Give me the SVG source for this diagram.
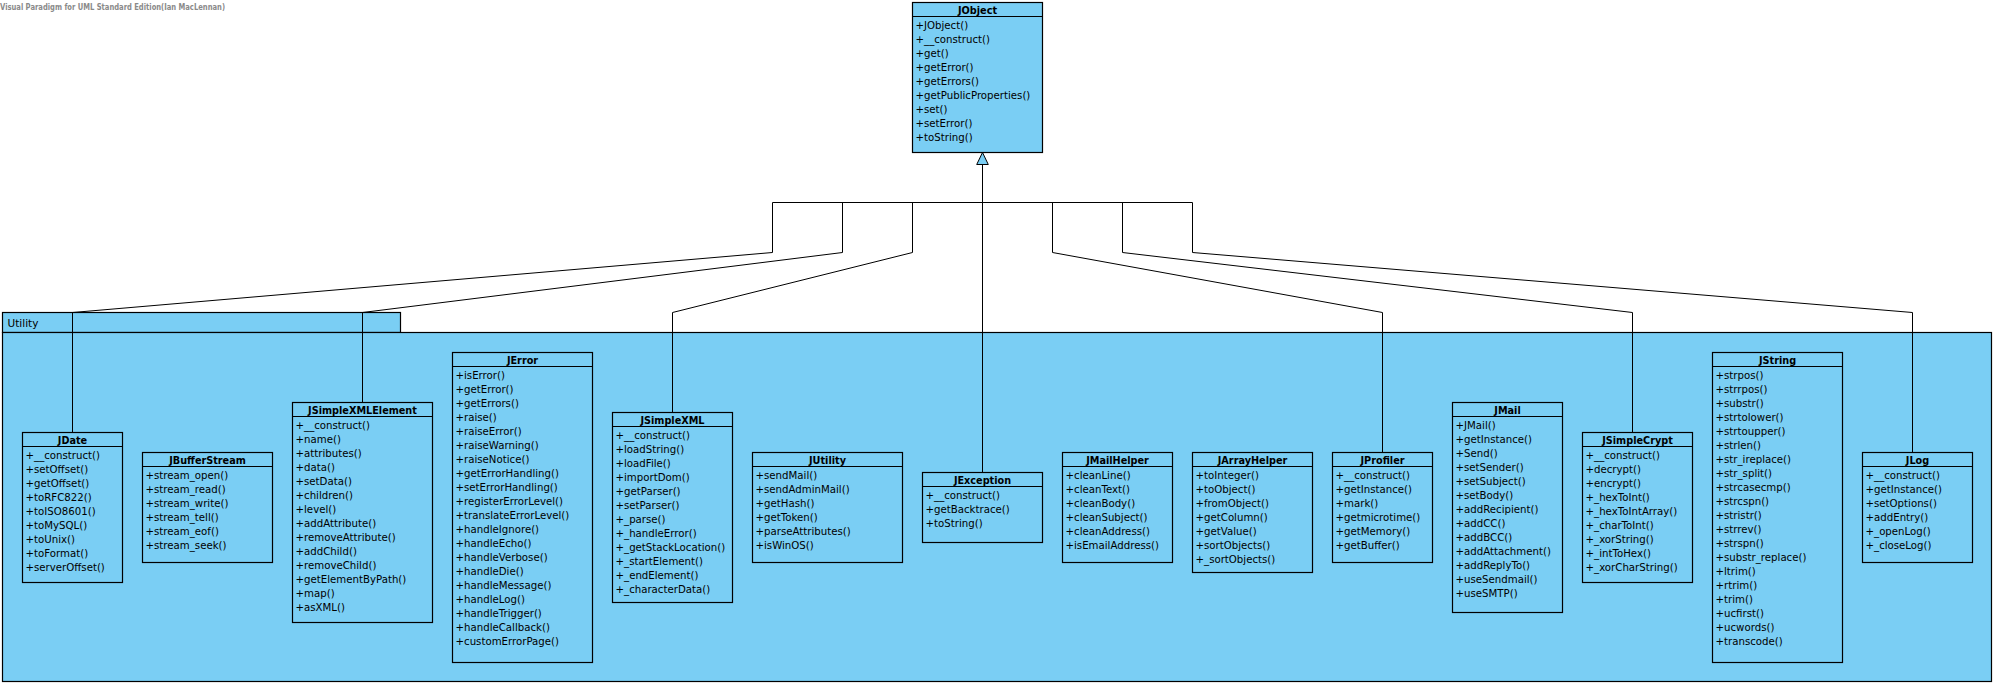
<svg xmlns="http://www.w3.org/2000/svg" width="1996" height="686" viewBox="0 0 1996 686">
<style>
.box{fill:#7ACEF4;stroke:#000;stroke-width:1.2}
.hdr{stroke:#000;stroke-width:1.2}
.t{font-family:"DejaVu Sans",sans-serif;font-size:9.7px;font-weight:bold;text-anchor:middle;fill:#000}
.m{font-family:"DejaVu Sans",sans-serif;font-size:10.2px;fill:#000}
.con{fill:none;stroke:#000;stroke-width:1}
.pkg{fill:#7ACEF4;stroke:#000;stroke-width:1.2}
.wm{font-family:"DejaVu Sans",sans-serif;font-size:8.5px;font-weight:bold;fill:#8a8a8a}
</style>
<rect width="1996" height="686" fill="#fff"/>
<text class="wm" x="0" y="9.5" textLength="225" lengthAdjust="spacingAndGlyphs">Visual Paradigm for UML Standard Edition(Ian MacLennan)</text>

<g id="Utility">
<rect class="pkg" x="2.5" y="312.5" width="398" height="20"/>
<rect class="pkg" x="2.5" y="332.5" width="1989" height="349"/>
<text x="7.5" y="327" style="font-family:'DejaVu Sans',sans-serif;font-size:10.5px;fill:#000">Utility</text>
</g>

<g id="connectors">
<path class="con" d="M772.5 202.5H1192.5"/>
<path class="con" d="M772.5 202.5V252.5L72.5 312.5V432.5"/>
<path class="con" d="M842.5 202.5V252.5L362.5 312.5V402.5"/>
<path class="con" d="M912.5 202.5V252.5L672.5 312.5V412.5"/>
<path class="con" d="M982.5 164.5V472.5"/>
<path class="con" d="M1052.5 202.5V252.5L1382.5 312.5V452.5"/>
<path class="con" d="M1122.5 202.5V252.5L1632.5 312.5V432.5"/>
<path class="con" d="M1192.5 202.5V252.5L1912.5 312.5V452.5"/>
<polygon points="982.5,152.5 976.7,164.5 988.3,164.5" fill="#7ACEF4" stroke="#000" stroke-width="1"/>
</g>

<g id="JObject">
<rect class="box" x="912.5" y="2.5" width="130" height="150"/>
<line class="hdr" x1="912.5" y1="16.5" x2="1042.5" y2="16.5"/>
<text class="t" x="977.5" y="13.5">JObject</text>
<text class="m"><tspan x="915.5" y="28.5">+JObject()</tspan><tspan x="915.5" dy="14">+__construct()</tspan><tspan x="915.5" dy="14">+get()</tspan><tspan x="915.5" dy="14">+getError()</tspan><tspan x="915.5" dy="14">+getErrors()</tspan><tspan x="915.5" dy="14">+getPublicProperties()</tspan><tspan x="915.5" dy="14">+set()</tspan><tspan x="915.5" dy="14">+setError()</tspan><tspan x="915.5" dy="14">+toString()</tspan></text>
</g>

<g id="JDate">
<rect class="box" x="22.5" y="432.5" width="100" height="150"/>
<line class="hdr" x1="22.5" y1="446.5" x2="122.5" y2="446.5"/>
<text class="t" x="72.5" y="443.5">JDate</text>
<text class="m"><tspan x="25.5" y="458.5">+__construct()</tspan><tspan x="25.5" dy="14">+setOffset()</tspan><tspan x="25.5" dy="14">+getOffset()</tspan><tspan x="25.5" dy="14">+toRFC822()</tspan><tspan x="25.5" dy="14">+toISO8601()</tspan><tspan x="25.5" dy="14">+toMySQL()</tspan><tspan x="25.5" dy="14">+toUnix()</tspan><tspan x="25.5" dy="14">+toFormat()</tspan><tspan x="25.5" dy="14">+serverOffset()</tspan></text>
</g>

<g id="JBufferStream">
<rect class="box" x="142.5" y="452.5" width="130" height="110"/>
<line class="hdr" x1="142.5" y1="466.5" x2="272.5" y2="466.5"/>
<text class="t" x="207.5" y="463.5">JBufferStream</text>
<text class="m"><tspan x="145.5" y="478.5">+stream_open()</tspan><tspan x="145.5" dy="14">+stream_read()</tspan><tspan x="145.5" dy="14">+stream_write()</tspan><tspan x="145.5" dy="14">+stream_tell()</tspan><tspan x="145.5" dy="14">+stream_eof()</tspan><tspan x="145.5" dy="14">+stream_seek()</tspan></text>
</g>

<g id="JSimpleXMLElement">
<rect class="box" x="292.5" y="402.5" width="140" height="220"/>
<line class="hdr" x1="292.5" y1="416.5" x2="432.5" y2="416.5"/>
<text class="t" x="362.5" y="413.5">JSimpleXMLElement</text>
<text class="m"><tspan x="295.5" y="428.5">+__construct()</tspan><tspan x="295.5" dy="14">+name()</tspan><tspan x="295.5" dy="14">+attributes()</tspan><tspan x="295.5" dy="14">+data()</tspan><tspan x="295.5" dy="14">+setData()</tspan><tspan x="295.5" dy="14">+children()</tspan><tspan x="295.5" dy="14">+level()</tspan><tspan x="295.5" dy="14">+addAttribute()</tspan><tspan x="295.5" dy="14">+removeAttribute()</tspan><tspan x="295.5" dy="14">+addChild()</tspan><tspan x="295.5" dy="14">+removeChild()</tspan><tspan x="295.5" dy="14">+getElementByPath()</tspan><tspan x="295.5" dy="14">+map()</tspan><tspan x="295.5" dy="14">+asXML()</tspan></text>
</g>

<g id="JError">
<rect class="box" x="452.5" y="352.5" width="140" height="310"/>
<line class="hdr" x1="452.5" y1="366.5" x2="592.5" y2="366.5"/>
<text class="t" x="522.5" y="363.5">JError</text>
<text class="m"><tspan x="455.5" y="378.5">+isError()</tspan><tspan x="455.5" dy="14">+getError()</tspan><tspan x="455.5" dy="14">+getErrors()</tspan><tspan x="455.5" dy="14">+raise()</tspan><tspan x="455.5" dy="14">+raiseError()</tspan><tspan x="455.5" dy="14">+raiseWarning()</tspan><tspan x="455.5" dy="14">+raiseNotice()</tspan><tspan x="455.5" dy="14">+getErrorHandling()</tspan><tspan x="455.5" dy="14">+setErrorHandling()</tspan><tspan x="455.5" dy="14">+registerErrorLevel()</tspan><tspan x="455.5" dy="14">+translateErrorLevel()</tspan><tspan x="455.5" dy="14">+handleIgnore()</tspan><tspan x="455.5" dy="14">+handleEcho()</tspan><tspan x="455.5" dy="14">+handleVerbose()</tspan><tspan x="455.5" dy="14">+handleDie()</tspan><tspan x="455.5" dy="14">+handleMessage()</tspan><tspan x="455.5" dy="14">+handleLog()</tspan><tspan x="455.5" dy="14">+handleTrigger()</tspan><tspan x="455.5" dy="14">+handleCallback()</tspan><tspan x="455.5" dy="14">+customErrorPage()</tspan></text>
</g>

<g id="JSimpleXML">
<rect class="box" x="612.5" y="412.5" width="120" height="190"/>
<line class="hdr" x1="612.5" y1="426.5" x2="732.5" y2="426.5"/>
<text class="t" x="672.5" y="423.5">JSimpleXML</text>
<text class="m"><tspan x="615.5" y="438.5">+__construct()</tspan><tspan x="615.5" dy="14">+loadString()</tspan><tspan x="615.5" dy="14">+loadFile()</tspan><tspan x="615.5" dy="14">+importDom()</tspan><tspan x="615.5" dy="14">+getParser()</tspan><tspan x="615.5" dy="14">+setParser()</tspan><tspan x="615.5" dy="14">+_parse()</tspan><tspan x="615.5" dy="14">+_handleError()</tspan><tspan x="615.5" dy="14">+_getStackLocation()</tspan><tspan x="615.5" dy="14">+_startElement()</tspan><tspan x="615.5" dy="14">+_endElement()</tspan><tspan x="615.5" dy="14">+_characterData()</tspan></text>
</g>

<g id="JUtility">
<rect class="box" x="752.5" y="452.5" width="150" height="110"/>
<line class="hdr" x1="752.5" y1="466.5" x2="902.5" y2="466.5"/>
<text class="t" x="827.5" y="463.5">JUtility</text>
<text class="m"><tspan x="755.5" y="478.5">+sendMail()</tspan><tspan x="755.5" dy="14">+sendAdminMail()</tspan><tspan x="755.5" dy="14">+getHash()</tspan><tspan x="755.5" dy="14">+getToken()</tspan><tspan x="755.5" dy="14">+parseAttributes()</tspan><tspan x="755.5" dy="14">+isWinOS()</tspan></text>
</g>

<g id="JException">
<rect class="box" x="922.5" y="472.5" width="120" height="70"/>
<line class="hdr" x1="922.5" y1="486.5" x2="1042.5" y2="486.5"/>
<text class="t" x="982.5" y="483.5">JException</text>
<text class="m"><tspan x="925.5" y="498.5">+__construct()</tspan><tspan x="925.5" dy="14">+getBacktrace()</tspan><tspan x="925.5" dy="14">+toString()</tspan></text>
</g>

<g id="JMailHelper">
<rect class="box" x="1062.5" y="452.5" width="110" height="110"/>
<line class="hdr" x1="1062.5" y1="466.5" x2="1172.5" y2="466.5"/>
<text class="t" x="1117.5" y="463.5">JMailHelper</text>
<text class="m"><tspan x="1065.5" y="478.5">+cleanLine()</tspan><tspan x="1065.5" dy="14">+cleanText()</tspan><tspan x="1065.5" dy="14">+cleanBody()</tspan><tspan x="1065.5" dy="14">+cleanSubject()</tspan><tspan x="1065.5" dy="14">+cleanAddress()</tspan><tspan x="1065.5" dy="14">+isEmailAddress()</tspan></text>
</g>

<g id="JArrayHelper">
<rect class="box" x="1192.5" y="452.5" width="120" height="120"/>
<line class="hdr" x1="1192.5" y1="466.5" x2="1312.5" y2="466.5"/>
<text class="t" x="1252.5" y="463.5">JArrayHelper</text>
<text class="m"><tspan x="1195.5" y="478.5">+toInteger()</tspan><tspan x="1195.5" dy="14">+toObject()</tspan><tspan x="1195.5" dy="14">+fromObject()</tspan><tspan x="1195.5" dy="14">+getColumn()</tspan><tspan x="1195.5" dy="14">+getValue()</tspan><tspan x="1195.5" dy="14">+sortObjects()</tspan><tspan x="1195.5" dy="14">+_sortObjects()</tspan></text>
</g>

<g id="JProfiler">
<rect class="box" x="1332.5" y="452.5" width="100" height="110"/>
<line class="hdr" x1="1332.5" y1="466.5" x2="1432.5" y2="466.5"/>
<text class="t" x="1382.5" y="463.5">JProfiler</text>
<text class="m"><tspan x="1335.5" y="478.5">+__construct()</tspan><tspan x="1335.5" dy="14">+getInstance()</tspan><tspan x="1335.5" dy="14">+mark()</tspan><tspan x="1335.5" dy="14">+getmicrotime()</tspan><tspan x="1335.5" dy="14">+getMemory()</tspan><tspan x="1335.5" dy="14">+getBuffer()</tspan></text>
</g>

<g id="JMail">
<rect class="box" x="1452.5" y="402.5" width="110" height="210"/>
<line class="hdr" x1="1452.5" y1="416.5" x2="1562.5" y2="416.5"/>
<text class="t" x="1507.5" y="413.5">JMail</text>
<text class="m"><tspan x="1455.5" y="428.5">+JMail()</tspan><tspan x="1455.5" dy="14">+getInstance()</tspan><tspan x="1455.5" dy="14">+Send()</tspan><tspan x="1455.5" dy="14">+setSender()</tspan><tspan x="1455.5" dy="14">+setSubject()</tspan><tspan x="1455.5" dy="14">+setBody()</tspan><tspan x="1455.5" dy="14">+addRecipient()</tspan><tspan x="1455.5" dy="14">+addCC()</tspan><tspan x="1455.5" dy="14">+addBCC()</tspan><tspan x="1455.5" dy="14">+addAttachment()</tspan><tspan x="1455.5" dy="14">+addReplyTo()</tspan><tspan x="1455.5" dy="14">+useSendmail()</tspan><tspan x="1455.5" dy="14">+useSMTP()</tspan></text>
</g>

<g id="JSimpleCrypt">
<rect class="box" x="1582.5" y="432.5" width="110" height="150"/>
<line class="hdr" x1="1582.5" y1="446.5" x2="1692.5" y2="446.5"/>
<text class="t" x="1637.5" y="443.5">JSimpleCrypt</text>
<text class="m"><tspan x="1585.5" y="458.5">+__construct()</tspan><tspan x="1585.5" dy="14">+decrypt()</tspan><tspan x="1585.5" dy="14">+encrypt()</tspan><tspan x="1585.5" dy="14">+_hexToInt()</tspan><tspan x="1585.5" dy="14">+_hexToIntArray()</tspan><tspan x="1585.5" dy="14">+_charToInt()</tspan><tspan x="1585.5" dy="14">+_xorString()</tspan><tspan x="1585.5" dy="14">+_intToHex()</tspan><tspan x="1585.5" dy="14">+_xorCharString()</tspan></text>
</g>

<g id="JString">
<rect class="box" x="1712.5" y="352.5" width="130" height="310"/>
<line class="hdr" x1="1712.5" y1="366.5" x2="1842.5" y2="366.5"/>
<text class="t" x="1777.5" y="363.5">JString</text>
<text class="m"><tspan x="1715.5" y="378.5">+strpos()</tspan><tspan x="1715.5" dy="14">+strrpos()</tspan><tspan x="1715.5" dy="14">+substr()</tspan><tspan x="1715.5" dy="14">+strtolower()</tspan><tspan x="1715.5" dy="14">+strtoupper()</tspan><tspan x="1715.5" dy="14">+strlen()</tspan><tspan x="1715.5" dy="14">+str_ireplace()</tspan><tspan x="1715.5" dy="14">+str_split()</tspan><tspan x="1715.5" dy="14">+strcasecmp()</tspan><tspan x="1715.5" dy="14">+strcspn()</tspan><tspan x="1715.5" dy="14">+stristr()</tspan><tspan x="1715.5" dy="14">+strrev()</tspan><tspan x="1715.5" dy="14">+strspn()</tspan><tspan x="1715.5" dy="14">+substr_replace()</tspan><tspan x="1715.5" dy="14">+ltrim()</tspan><tspan x="1715.5" dy="14">+rtrim()</tspan><tspan x="1715.5" dy="14">+trim()</tspan><tspan x="1715.5" dy="14">+ucfirst()</tspan><tspan x="1715.5" dy="14">+ucwords()</tspan><tspan x="1715.5" dy="14">+transcode()</tspan></text>
</g>

<g id="JLog">
<rect class="box" x="1862.5" y="452.5" width="110" height="110"/>
<line class="hdr" x1="1862.5" y1="466.5" x2="1972.5" y2="466.5"/>
<text class="t" x="1917.5" y="463.5">JLog</text>
<text class="m"><tspan x="1865.5" y="478.5">+__construct()</tspan><tspan x="1865.5" dy="14">+getInstance()</tspan><tspan x="1865.5" dy="14">+setOptions()</tspan><tspan x="1865.5" dy="14">+addEntry()</tspan><tspan x="1865.5" dy="14">+_openLog()</tspan><tspan x="1865.5" dy="14">+_closeLog()</tspan></text>
</g>
</svg>
